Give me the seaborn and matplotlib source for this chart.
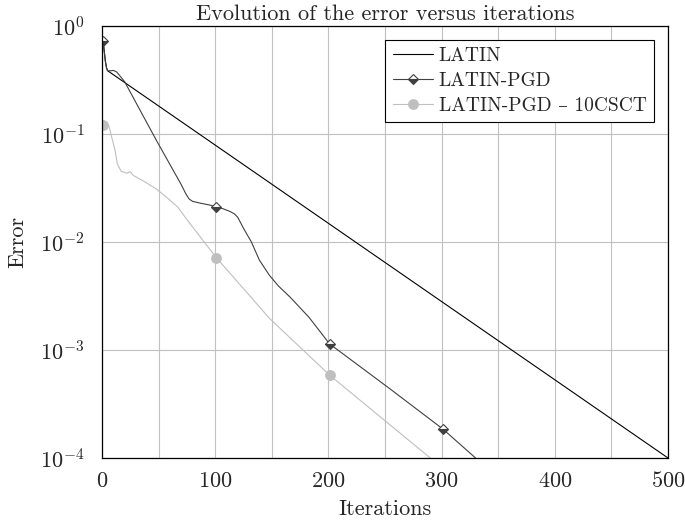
import numpy as np
import matplotlib
matplotlib.use("Agg")
import matplotlib.pyplot as plt
import matplotlib.ticker as mticker
import seaborn as sns

# LATIN: plain line, no marks
latin_it = [1, 2, 3, 4, 5, 500]
latin_err = [0.73, 0.58, 0.47, 0.41, 0.385, 1e-4]

# LATIN-PGD
pgd_it = [1, 2, 3, 4, 5, 8, 10, 13, 20, 48, 70, 74, 77, 80, 86, 95, 101, 107,
          113, 117, 120, 124.5, 128, 132, 139, 148, 156, 166, 183, 201, 254,
          301, 330]
pgd_err = [0.73, 0.58, 0.47, 0.41, 0.385, 0.385, 0.388, 0.375, 0.305, 0.0875,
           0.034, 0.028, 0.025, 0.0238, 0.023, 0.0220, 0.0212, 0.0203, 0.0192,
           0.0182, 0.0169, 0.0137, 0.0118, 0.0100, 0.0068, 0.0049, 0.0039,
           0.0031, 0.0020, 0.00114, 0.00044, 0.000186, 0.0001]

# LATIN-PGD - 10CSCT
csct_it = [1, 6, 8.5, 11.5, 13.5, 17, 22, 25, 27.5, 36, 48, 57, 67, 74.5, 101,
           125, 148, 175, 201, 290]
csct_err = [0.12, 0.12, 0.094, 0.071, 0.053, 0.045, 0.0434, 0.0448, 0.0414,
            0.037, 0.031, 0.026, 0.021, 0.0164, 0.00715, 0.0037, 0.00196,
            0.00106, 0.000586, 0.0001]

mark_it = [1, 101, 201, 301]

title = "Evolution of the error versus iterations"
xlabel = "Iterations"
ylabel = "Error"

sns.set_style("white")
plt.rcParams['font.family'] = ['cmr10', 'DejaVu Serif']
plt.rcParams['mathtext.fontset'] = 'cm'
plt.rcParams['axes.unicode_minus'] = False
plt.rcParams['axes.formatter.use_mathtext'] = True

fs = 16

fig = plt.figure(figsize=(6.85, 5.25), dpi=100)
ax = fig.add_axes([0.1489, 0.1276, 0.8263, 0.8229])


def marks(its):
    return [i for i, v in enumerate(its) if v in mark_it]


sns.lineplot(x=latin_it, y=latin_err, ax=ax, color='black', linewidth=0.8,
             estimator=None, label='LATIN')
sns.lineplot(x=pgd_it, y=pgd_err, ax=ax, color='#404040', linewidth=0.8,
             estimator=None, label='LATIN-PGD',
             marker='D', markersize=5.5, markevery=marks(pgd_it),
             fillstyle='bottom', markerfacecolor='#404040',
             markerfacecoloralt='white', markeredgecolor='#404040',
             markeredgewidth=0.8)
sns.lineplot(x=csct_it, y=csct_err, ax=ax, color='#bfbfbf', linewidth=0.8,
             estimator=None, label='LATIN-PGD \u2013 10CSCT',
             marker='o', markersize=7, markevery=marks(csct_it),
             markerfacecolor='#bfbfbf', markeredgecolor='#bfbfbf')

ax.set_yscale('log')
ax.set_xlim(0, 500)
ax.set_ylim(1e-4, 1)
ax.xaxis.set_major_locator(mticker.MultipleLocator(100))
ax.xaxis.set_minor_locator(mticker.MultipleLocator(50))
ax.yaxis.set_major_locator(mticker.LogLocator(base=10, numticks=10))
ax.yaxis.set_minor_locator(mticker.NullLocator())

ax.grid(True, which='both', axis='x', color='#c0c0c0', linewidth=0.8)
ax.grid(True, which='major', axis='y', color='#c0c0c0', linewidth=0.8)
ax.set_axisbelow(True)

ax.tick_params(which='both', direction='inout', length=5, width=0.6,
               color='#808080', labelsize=fs)
ax.tick_params(axis='x', pad=7)
ax.tick_params(axis='y', pad=10)
ax.tick_params(which='minor', labelbottom=False)

for s in ax.spines.values():
    s.set_color('black')
    s.set_linewidth(0.9)

ax.set_title(title, fontsize=fs, pad=4)
ax.set_xlabel(xlabel, fontsize=fs, labelpad=6)
ax.set_ylabel(ylabel, fontsize=fs, labelpad=9)

leg = ax.legend(loc='upper right', fontsize=14, frameon=True, fancybox=False,
                edgecolor='black', framealpha=1, handlelength=2.06,
                handletextpad=0.3, labelspacing=0.35, borderpad=0.38,
                borderaxespad=0.72)
leg.get_frame().set_linewidth(0.8)

fig.savefig('out.png', dpi=100)
